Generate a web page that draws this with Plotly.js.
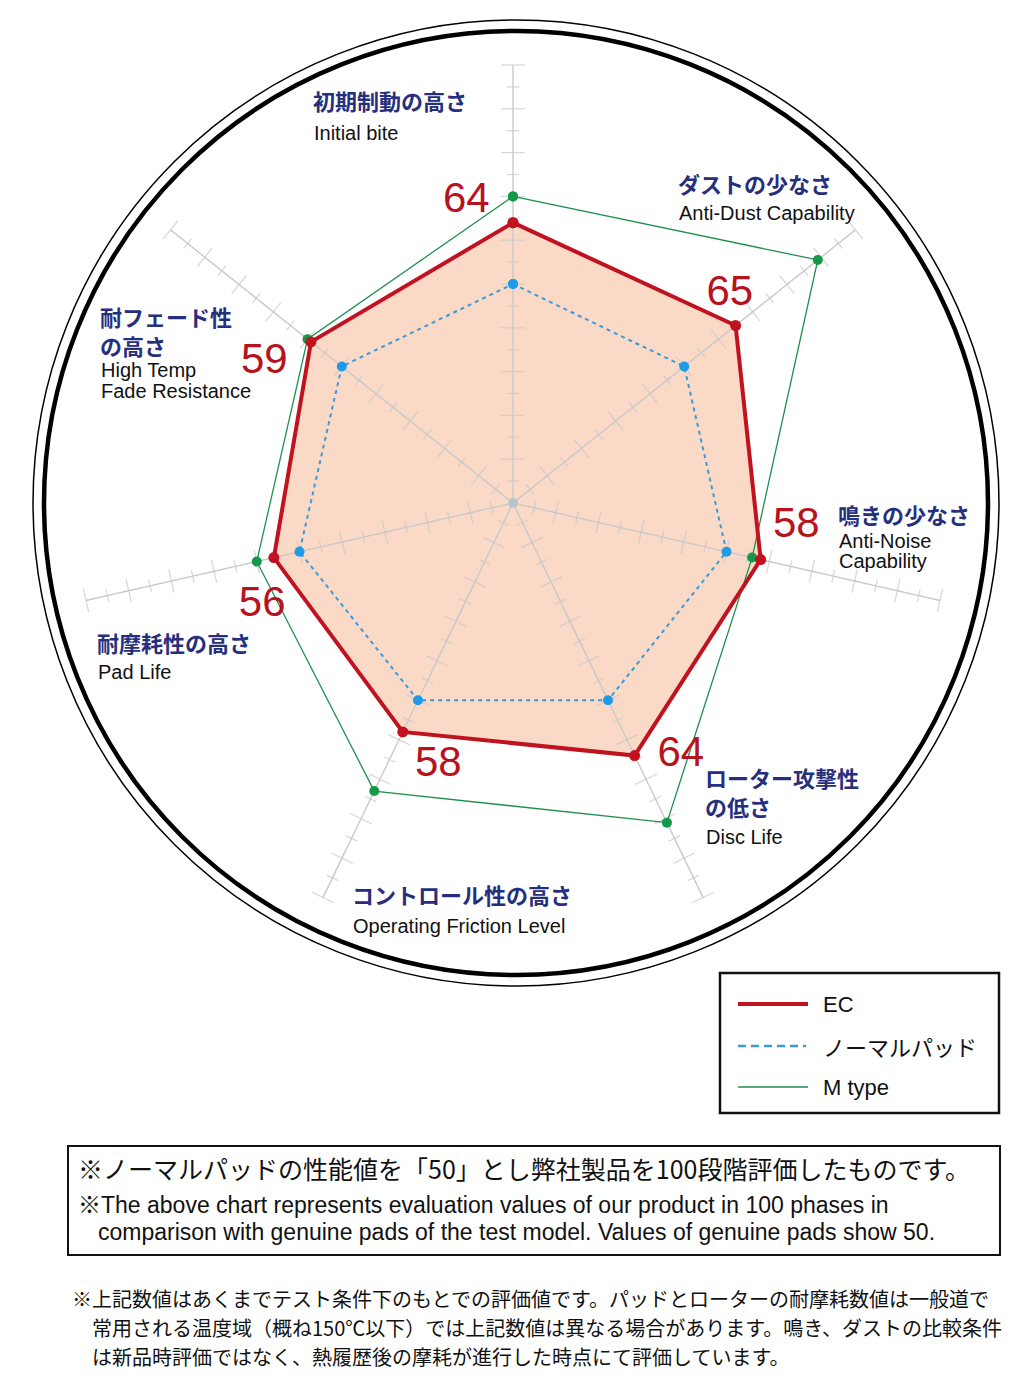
<!DOCTYPE html>
<html>
<head>
<meta charset="utf-8">
<script src="https://cdn.plot.ly/plotly-3.0.1.min.js"></script>
<style>
  html, body { margin: 0; padding: 0; background: #fff; }
  #chart { width: 1031px; height: 1384px; }
</style>
</head>
<body>
<div id="chart"></div>
<script>
// categories go clockwise from the top
var categories = ['初期制動の高さ', 'ダストの少なさ', '鳴きの少なさ', 'ローター攻撃性の低さ', 'コントロール性の高さ', '耐摩耗性の高さ', '耐フェード性の高さ'];
var ecValues = [64, 65, 58, 64, 58, 56, 59];
var normalValues = [50, 50, 50, 50, 50, 50, 50];
var mTypeValues = [70, 89, 56, 81, 73, 60, 60];
var seriesNames = ['EC', 'ノーマルパッド', 'M type'];

var W = 1031, H = 1384;
var JP = 'Noto Sans CJK JP, sans-serif';
var EN = 'Liberation Sans, Arial, Noto Sans CJK JP, sans-serif';
var RED = '#c1121f', BLUE = '#3a9bd8', GREEN = '#1f8f4e', NAVY = '#262f7d', GRID = '#c9c9c9';

function px(x) { return x / W; }
function py(y) { return 1 - y / H; }
function closed(a) { return a.concat([a[0]]); }

// spokes with tick marks every 5
var spokeR = [], spokeT = [], spokeSize = [], spokeAngle = [];
for (var i = 0; i < categories.length; i++) {
  for (var v = 0; v <= 100; v += 5) {
    spokeR.push(v);
    spokeT.push(categories[i]);
    spokeSize.push(v === 0 ? 0 : (v % 10 === 0 ? 17 : 9));
    spokeAngle.push(i * 360 / categories.length);
  }
  spokeR.push(null); spokeT.push(null); spokeSize.push(0); spokeAngle.push(0);
}

// value labels next to EC points
var labelPos = ['top left', 'top center', 'top right', 'middle right', 'bottom right', 'bottom center', 'bottom left'];
var labelPad = [0, 14, 18, 35, 18, 42, 0];
var labelTail = ['\u00a0\u00a0', '\u00a0', '', '', '', '\u00a0\u00a0', '\u00a0\u00a0'];

var data = [
  {
    type: 'scatterpolar', r: closed(ecValues), theta: closed(categories),
    mode: 'lines', fill: 'toself', fillcolor: '#fad9c6',
    line: {width: 0, color: 'rgba(0,0,0,0)'}, hoverinfo: 'skip', showlegend: false
  },
  {
    type: 'scatterpolar', r: spokeR, theta: spokeT, mode: 'lines+markers',
    line: {color: GRID, width: 1.4},
    marker: {symbol: 'line-ew-open', size: spokeSize, angle: spokeAngle, color: GRID, line: {color: GRID, width: 1.3}},
    hoverinfo: 'skip', showlegend: false
  },
  {
    type: 'scatterpolar', r: [0], theta: [categories[0]], mode: 'markers',
    marker: {size: 10, color: '#b9c3cd'}, hoverinfo: 'skip', showlegend: false
  },
  {
    type: 'scatterpolar', name: seriesNames[1], r: closed(normalValues), theta: closed(categories),
    mode: 'lines+markers', line: {color: BLUE, width: 2, dash: '4px,4px'},
    marker: {size: 10, color: '#1e9be6'}
  },
  {
    type: 'scatterpolar', name: seriesNames[2], r: closed(mTypeValues), theta: closed(categories),
    mode: 'lines+markers', line: {color: GREEN, width: 1.3},
    marker: {size: 10, color: '#14994b'}
  },
  {
    type: 'scatterpolar', name: seriesNames[0], r: closed(ecValues), theta: closed(categories),
    mode: 'lines+markers', line: {color: RED, width: 4},
    marker: {size: 11, color: RED}
  },
  {
    type: 'scatterpolar', r: ecValues, theta: categories, mode: 'markers+text',
    text: ecValues.map(function (v, k) { return v + labelTail[k]; }),
    textposition: labelPos,
    textfont: {family: EN, size: 42, color: '#b8131d'},
    marker: {size: labelPad, color: 'rgba(0,0,0,0)', line: {width: 0}},
    hoverinfo: 'skip', showlegend: false
  }
];

var annotations = [];
function label(text, x, y, size, color, family, weight) {
  annotations.push({
    xref: 'paper', yref: 'paper', x: px(x), y: py(y),
    xanchor: 'left', yanchor: 'middle', showarrow: false, align: 'left',
    text: text, font: {family: family, size: size, color: color, weight: weight || 'normal'}
  });
}
function jp(text, x, y) { label(text, x, y, 22, NAVY, JP, 'bold'); }
function en(text, x, y) { label(text, x, y, 20, '#111', EN); }

jp('初期制動の高さ', 311, 100); en('Initial bite', 312, 133);
jp('ダストの少なさ', 676, 183); en('Anti-Dust Capability', 677, 213);
jp('鳴きの少なさ', 836, 514); en('Anti-Noise', 837, 541); en('Capability', 837, 561);
jp('ローター攻撃性<br>の低さ', 703, 791); en('Disc Life', 704, 837);
jp('コントロール性の高さ', 350, 894); en('Operating Friction Level', 351, 926);
jp('耐摩耗性の高さ', 95, 642); en('Pad Life', 96, 672);
jp('耐フェード性<br>の高さ', 98, 330); en('High Temp', 99, 370); en('Fade Resistance', 99, 391);

// legend
label(seriesNames[0], 821, 1004, 22, '#111', EN);
label(seriesNames[1], 821, 1046, 22, '#111', JP);
label(seriesNames[2], 821, 1087, 22, '#111', EN);

// notes
label('※ノーマルパッドの性能値を「50」とし弊社製品を100段階評価したものです。', 76, 1168, 25, '#111', JP);
label('※The above chart represents evaluation values of our product in 100 phases in', 76, 1205, 23, '#111', EN);
label('comparison with genuine pads of the test model. Values of genuine pads show 50.', 96, 1232, 23, '#111', EN);
label('※上記数値はあくまでテスト条件下のもとでの評価値です。パッドとローターの耐摩耗数値は一般道で', 70, 1298, 20, '#111', JP);
label('常用される温度域（概ね150℃以下）では上記数値は異なる場合があります。鳴き、ダストの比較条件', 90, 1327, 20, '#111', JP);
label('は新品時評価ではなく、熱履歴後の摩耗が進行した時点にて評価しています。', 90, 1356, 20, '#111', JP);

function circle(cx, cy, r, w) {
  return {type: 'circle', xref: 'paper', yref: 'paper',
    x0: px(cx - r), x1: px(cx + r), y0: py(cy + r), y1: py(cy - r),
    line: {color: '#000', width: w}};
}
function box(x0, y0, x1, y1, w) {
  return {type: 'rect', xref: 'paper', yref: 'paper',
    x0: px(x0), x1: px(x1), y0: py(y1), y1: py(y0), line: {color: '#111', width: w}};
}
function seg(x0, x1, y, color, w, dash) {
  return {type: 'line', xref: 'paper', yref: 'paper',
    x0: px(x0), x1: px(x1), y0: py(y), y1: py(y), line: {color: color, width: w, dash: dash || 'solid'}};
}

var shapes = [
  circle(516, 503, 472, 4.5),
  circle(516, 503, 483, 1.5),
  box(720, 973, 999, 1113, 2.5),
  seg(738, 808, 1004, RED, 4),
  seg(738, 806, 1046, BLUE, 2.5, '8px,5px'),
  seg(738, 808, 1087, GREEN, 1.6),
  box(68, 1146, 1000, 1255, 2)
];

var layout = {
  width: W, height: H,
  margin: {l: 0, r: 0, t: 0, b: 0},
  paper_bgcolor: '#fff',
  showlegend: false,
  polar: {
    domain: {x: [px(75), px(951)], y: [py(941), py(65)]},
    bgcolor: 'rgba(0,0,0,0)',
    radialaxis: {range: [0, 100], visible: false},
    angularaxis: {
      type: 'category', categoryorder: 'array', categoryarray: categories,
      rotation: 90, direction: 'clockwise',
      showline: false, showgrid: false, showticklabels: false, ticks: ''
    }
  },
  annotations: annotations,
  shapes: shapes
};

Plotly.newPlot('chart', data, layout, {displayModeBar: false, staticPlot: true});
</script>
</body>
</html>
